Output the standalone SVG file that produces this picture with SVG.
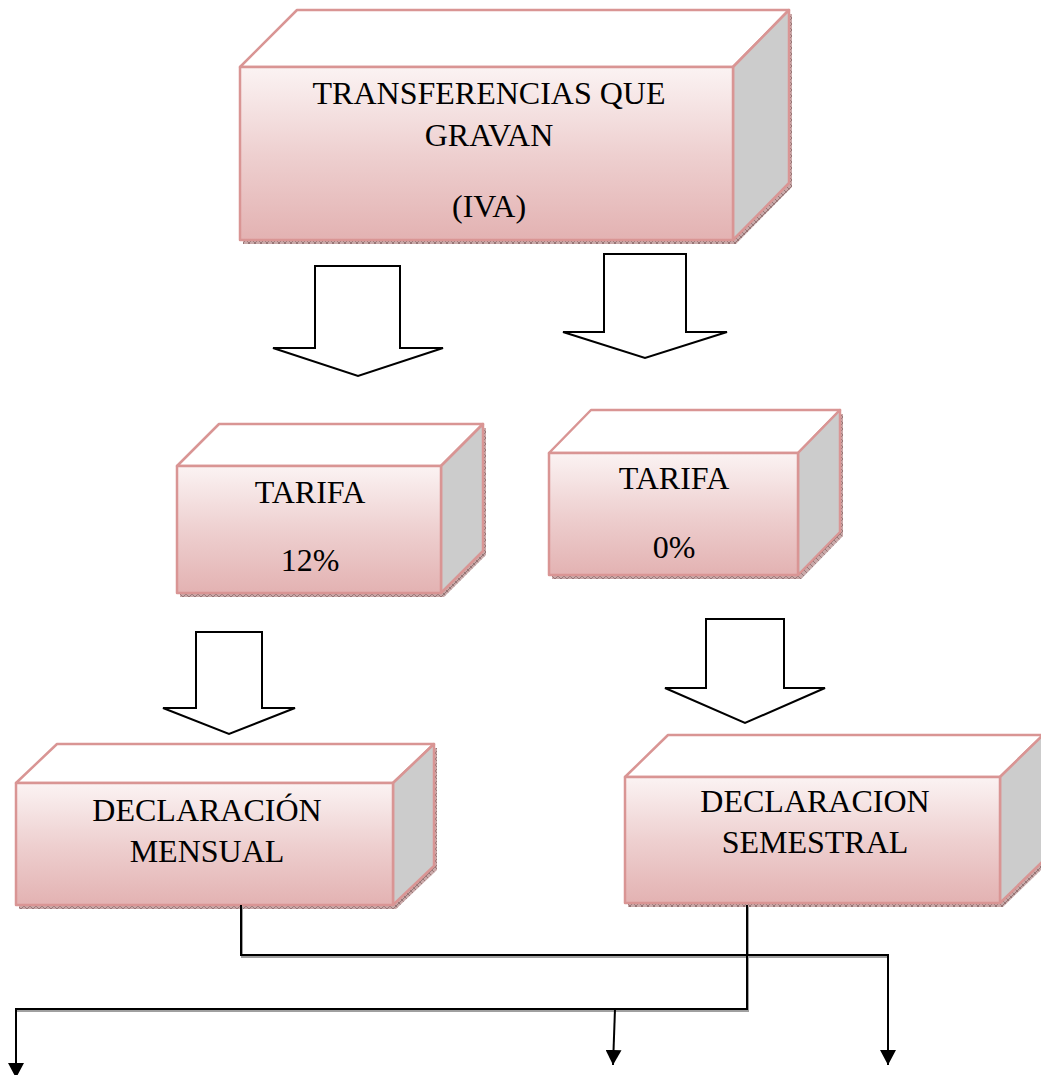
<svg xmlns="http://www.w3.org/2000/svg" width="1041" height="1075" viewBox="0 0 1041 1075">
  <defs>
    <linearGradient id="faceFill" x1="0" y1="0" x2="0" y2="1">
      <stop offset="0" stop-color="#fbf3f3"/>
      <stop offset="0.5" stop-color="#eed0d0"/>
      <stop offset="1" stop-color="#e3b2b2"/>
    </linearGradient>
    <pattern id="shadowHatch" width="6" height="6" patternUnits="userSpaceOnUse">
      <rect width="6" height="6" fill="#c9a9a9"/>
      <path d="M0 0 L6 6 M6 0 L0 6" stroke="#8a6a6a" stroke-width="0.8"/>
    </pattern>
    <marker id="arrowHead" viewBox="0 0 15 16" refX="15" refY="8" markerWidth="15" markerHeight="16" markerUnits="userSpaceOnUse" orient="auto">
      <path d="M0 0 L15 8 L0 16 Z" fill="#000"/>
    </marker>
    <style>
      .shadow { fill: url(#shadowHatch); stroke: none; }
      .front { fill: url(#faceFill); stroke: #d99594; stroke-width: 2.5; stroke-linejoin: round; }
      .top { fill: #ffffff; stroke: #d99594; stroke-width: 2.5; stroke-linejoin: round; }
      .side { fill: #cccccc; stroke: #d99594; stroke-width: 2.5; stroke-linejoin: round; }
      .label { font-family: "Liberation Serif", "Times New Roman", serif; font-size: 32px; fill: #000; text-anchor: middle; }
      .block { fill: #ffffff; stroke: #000; stroke-width: 2; stroke-linejoin: miter; }
      .wire { fill: none; stroke: #000; stroke-width: 2; }
      .wireShade { fill: none; stroke: #a0a0a0; stroke-width: 2; }
    </style>
  </defs>

  <!-- Top box: TRANSFERENCIAS QUE GRAVAN (IVA) -->
  <g id="node-transferencias">
    <polygon class="shadow" points="243,71 300,14 792,14 792,187 736,244 243,244"/>
    <polygon class="top" points="240,67 297,10 789,10 733,67"/>
    <polygon class="side" points="733,67 789,10 789,183 733,240"/>
    <rect class="front" x="240" y="67" width="493" height="173"/>
    <text class="label" x="489" y="104">TRANSFERENCIAS QUE</text>
    <text class="label" x="489" y="146">GRAVAN</text>
    <text class="label" x="489" y="217">(IVA)</text>
  </g>

  <!-- TARIFA 12% -->
  <g id="node-tarifa12">
    <polygon class="shadow" points="180,470 222,428 486,428 486,555 444,597 180,597"/>
    <polygon class="top" points="177,466 219,424 483,424 441,466"/>
    <polygon class="side" points="441,466 483,424 483,551 441,593"/>
    <rect class="front" x="177" y="466" width="264" height="127"/>
    <text class="label" x="310" y="503">TARIFA</text>
    <text class="label" x="310" y="571">12%</text>
  </g>

  <!-- TARIFA 0% -->
  <g id="node-tarifa0">
    <polygon class="shadow" points="552,457 594,414 843,414 843,536 801,579 552,579"/>
    <polygon class="top" points="549,453 591,410 840,410 798,453"/>
    <polygon class="side" points="798,453 840,410 840,532 798,575"/>
    <rect class="front" x="549" y="453" width="249" height="122"/>
    <text class="label" x="674" y="489">TARIFA</text>
    <text class="label" x="674" y="558">0%</text>
  </g>

  <!-- DECLARACIÓN MENSUAL -->
  <g id="node-mensual">
    <polygon class="shadow" points="19,787 60,748 437,748 437,870 396,909 19,909"/>
    <polygon class="top" points="16,783 57,744 434,744 393,783"/>
    <polygon class="side" points="393,783 434,744 434,866 393,905"/>
    <rect class="front" x="16" y="783" width="377" height="122"/>
    <text class="label" x="207" y="821">DECLARACIÓN</text>
    <text class="label" x="207" y="862">MENSUAL</text>
  </g>

  <!-- DECLARACION SEMESTRAL -->
  <g id="node-semestral">
    <polygon class="shadow" points="628,781 671,739 1046,739 1046,865 1003,907 628,907"/>
    <polygon class="top" points="625,777 668,735 1043,735 1000,777"/>
    <polygon class="side" points="1000,777 1043,735 1043,861 1000,903"/>
    <rect class="front" x="625" y="777" width="375" height="126"/>
    <text class="label" x="815" y="812">DECLARACION</text>
    <text class="label" x="815" y="853">SEMESTRAL</text>
  </g>

  <!-- Connectors: block arrows and elbow lines -->
  <g id="connectors">
    <polygon class="block" points="315,266 400,266 400,348 443,348 358,376 273,348 315,348"/>
    <polygon class="block" points="604,254 686,254 686,332 727,332 645,358 563,332 604,332"/>
    <polygon class="block" points="196,632 262,632 262,708 295,708 229,734 163,708 196,708"/>
    <polygon class="block" points="706,619 784,619 784,688 825,688 745,723 665,688 706,688"/>

    <polyline class="wireShade" points="242,907 242,957 889,957"/>
    <polyline class="wireShade" points="748,907 748,1011 17,1011"/>
    <polyline class="wire" points="241,905 241,955 888,955 888,1065" marker-end="url(#arrowHead)"/>
    <polyline class="wire" points="747,905 747,1009 16,1009 16,1078" marker-end="url(#arrowHead)"/>
    <line class="wire" x1="615" y1="1009" x2="613" y2="1065" marker-end="url(#arrowHead)"/>
  </g>
</svg>
